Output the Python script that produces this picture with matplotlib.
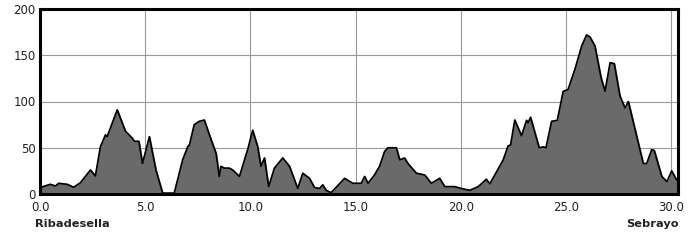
import matplotlib
matplotlib.use("Agg")
import matplotlib.pyplot as plt

# distance (km) and elevation (m)
km = [0.0, 0.49, 0.73, 0.89, 1.29, 1.6, 1.92, 2.4, 2.63, 2.87, 3.11, 3.19, 3.67,
      4.06, 4.38, 4.49, 4.7, 4.87, 5.2, 5.51, 5.83, 6.38, 6.78, 7.02, 7.1, 7.33,
      7.57, 7.81, 8.13, 8.37, 8.52, 8.6, 8.76, 9.0, 9.16, 9.48, 9.87, 10.11,
      10.35, 10.5, 10.67, 10.87, 11.14, 11.54, 11.86, 12.25, 12.49, 12.81, 13.05,
      13.29, 13.44, 13.6, 13.84, 14.48, 14.87, 15.27, 15.43, 15.59, 15.9, 16.14,
      16.38, 16.54, 16.94, 17.1, 17.33, 17.49, 17.89, 18.29, 18.6, 19.0, 19.24,
      19.71, 20.03, 20.43, 20.83, 21.22, 21.38, 21.62, 22.02, 22.25, 22.37, 22.57,
      22.89, 23.13, 23.2, 23.32, 23.73, 23.92, 24.05, 24.32, 24.59, 24.87, 25.1,
      25.43, 25.75, 25.98, 26.14, 26.38, 26.67, 26.86, 27.1, 27.3, 27.57, 27.81,
      27.97, 28.37, 28.68, 28.84, 29.08, 29.2, 29.56, 29.8, 30.03, 30.27, 30.33]
elev = [7, 10.5, 8.7, 11.6, 10.5, 7.3, 12.3, 26, 19.5, 51, 64, 62, 91,
        68, 60.5, 57, 57, 33, 62, 26, 1, 1, 37, 51, 53, 75,
        78.6, 80, 59, 44, 19, 30, 28, 28, 26, 19, 48, 69,
        51, 30, 39, 8, 28, 39, 30, 6, 22.5, 17, 7,
        6, 10, 4, 1.5, 17, 11.6, 11.6, 19, 11.6, 20.6, 30,
        46, 50, 50, 37, 39, 33, 22.5, 20.6, 11.6, 17, 8,
        8, 6, 4, 8, 16, 11, 20.6, 37, 52, 53, 80,
        63, 79.7, 77, 83, 50, 51, 50, 78.6, 79.7, 111, 113,
        135, 160, 172, 170, 160, 126, 111, 142, 141, 106, 93,
        100, 62, 33, 33, 48, 47, 19, 13.4, 25, 15, 17]

xticks = [0, 5, 10, 15, 20, 25, 30]
yticks = [0, 50, 100, 150, 200]
start_name = "Ribadesella"
end_name = "Sebrayo"

fig = plt.figure(figsize=(6.99, 2.4), dpi=100)
ax = fig.add_axes([40 / 699, 1 - 194 / 240, 638 / 699, 185 / 240])

ax.fill_between(km, elev, 0, color="#6a6a6a", zorder=2)
ax.plot(km, elev, color="black", lw=1.2, zorder=3)

ax.set_xlim(0, 30.33)
ax.set_ylim(0, 200)
ax.set_xticks(xticks)
ax.set_xticklabels([f"{t:.1f}" for t in xticks])
ax.set_yticks(yticks)
ax.grid(True, color="#9a9a9a", lw=0.8, zorder=1)
ax.set_axisbelow(True)
ax.tick_params(length=0, labelsize=8.5, colors="#222222")
ax.tick_params(axis="x", pad=5)
ax.tick_params(axis="y", pad=3)
for s in ax.spines.values():
    s.set_linewidth(2.2)
    s.set_color("black")
    s.set_zorder(4)

fig.text(35 / 699, 1 - 224 / 240, start_name, ha="left", va="center",
         fontsize=8.2, fontweight="bold", color="#222222")
fig.text(679 / 699, 1 - 224 / 240, end_name, ha="right", va="center",
         fontsize=8.2, fontweight="bold", color="#222222")

fig.savefig("out.png", dpi=100, facecolor="white")
